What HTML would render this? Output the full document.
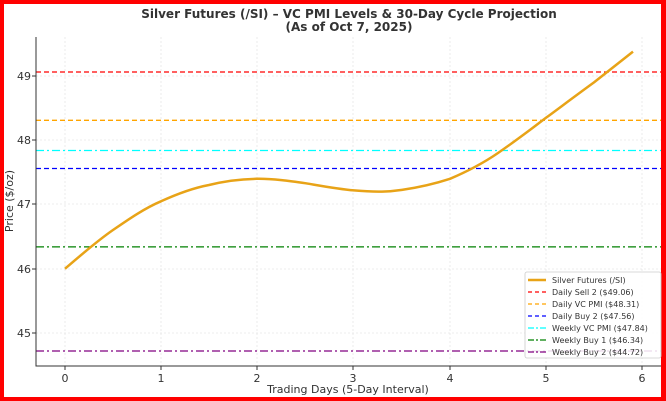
<!DOCTYPE html>
<html><head><style>
html,body{margin:0;padding:0;background:#fff;}
svg{display:block;font-family:"DejaVu Sans","Liberation Sans",sans-serif;}
</style></head><body>
<svg width="666" height="401" viewBox="0 0 666 401" xmlns="http://www.w3.org/2000/svg">
<rect x="0" y="0" width="666" height="401" fill="#ff0000"/>
<rect x="4" y="4" width="657" height="393" fill="#fff"/>
<g stroke="#e6e6e6" stroke-width="0.8" stroke-dasharray="2,2">
<line x1="65" y1="37" x2="65" y2="366"/><line x1="161" y1="37" x2="161" y2="366"/><line x1="257" y1="37" x2="257" y2="366"/><line x1="353" y1="37" x2="353" y2="366"/><line x1="450" y1="37" x2="450" y2="366"/><line x1="546" y1="37" x2="546" y2="366"/><line x1="642" y1="37" x2="642" y2="366"/>
<line x1="36" y1="76" x2="661" y2="76"/><line x1="36" y1="140" x2="661" y2="140"/><line x1="36" y1="204" x2="661" y2="204"/><line x1="36" y1="269" x2="661" y2="269"/><line x1="36" y1="333" x2="661" y2="333"/>
</g>
<g stroke-width="1.3" fill="none">
<line x1="36" y1="72" x2="661" y2="72" stroke="#ff0000" stroke-dasharray="5,3"/>
<line x1="36" y1="120.3" x2="661" y2="120.3" stroke="#ffa500" stroke-dasharray="5,3"/>
<line x1="36" y1="168.5" x2="661" y2="168.5" stroke="#0000ff" stroke-dasharray="5,3"/>
<line x1="36" y1="150.5" x2="661" y2="150.5" stroke="#00ffff" stroke-dasharray="8,3,2,3"/>
<line x1="36" y1="246.9" x2="661" y2="246.9" stroke="#008000" stroke-dasharray="8,3,2,3"/>
<line x1="36" y1="351" x2="661" y2="351" stroke="#800080" stroke-dasharray="8,3,2,3"/>
</g>
<path d="M65,268.75 C81,255 97,241 113,230 C129,219 145,208 161,201.3 C177,194 193,188 209,185 C225,181 241,179 257,178.8 C273,178.6 290,181 306,183.3 C322,186 338,189 354,190.4 C364,191.3 373,191.8 382,191.6 C389,191.5 396,190.8 402,189.9 C418,187.5 434,184 450,178.8 C466,172 482,164 498,153 C514,142 530,130 546,117.8 C562,106 578,94 594,82.4 C607,72 620,62 633,51.6" fill="none" stroke="#e8a317" stroke-width="2.5"/>
<line x1="36" y1="37" x2="36" y2="366.5" stroke="#333" stroke-width="1"/>
<line x1="36" y1="366" x2="661" y2="366" stroke="#333" stroke-width="1"/>
<g stroke="#333">
<line x1="65" y1="366" x2="65" y2="370"/><line x1="161" y1="366" x2="161" y2="370"/><line x1="257" y1="366" x2="257" y2="370"/><line x1="353" y1="366" x2="353" y2="370"/><line x1="450" y1="366" x2="450" y2="370"/><line x1="546" y1="366" x2="546" y2="370"/><line x1="642" y1="366" x2="642" y2="370"/>
<line x1="32" y1="76" x2="36" y2="76"/><line x1="32" y1="140" x2="36" y2="140"/><line x1="32" y1="204" x2="36" y2="204"/><line x1="32" y1="269" x2="36" y2="269"/><line x1="32" y1="333" x2="36" y2="333"/>
</g>
<g font-size="11" fill="#333" text-anchor="middle">
<text x="65" y="382">0</text><text x="161" y="382">1</text><text x="257" y="382">2</text><text x="353" y="382">3</text><text x="450" y="382">4</text><text x="546" y="382">5</text><text x="642" y="382">6</text>
</g>
<g font-size="11" fill="#333" text-anchor="end">
<text x="31" y="80">49</text><text x="31" y="144">48</text><text x="31" y="208">47</text><text x="31" y="273">46</text><text x="31" y="337">45</text>
</g>
<text x="348" y="393" font-size="11" fill="#333" text-anchor="middle">Trading Days (5-Day Interval)</text>
<text transform="translate(13,201) rotate(-90)" font-size="11" fill="#333" text-anchor="middle">Price ($/oz)</text>
<g font-size="12" font-weight="bold" fill="#333" text-anchor="middle">
<text x="349" y="18">Silver Futures (/SI) – VC PMI Levels &amp; 30-Day Cycle Projection</text>
<text x="349" y="31">(As of Oct 7, 2025)</text>
</g>
<rect x="525" y="272" width="136" height="86" rx="2" fill="#fff" fill-opacity="0.85" stroke="#ccc" stroke-width="0.8"/>
<g stroke-width="1.3">
<line x1="528" y1="280" x2="546" y2="280" stroke="#e8a317" stroke-width="2.5"/>
<line x1="528" y1="292" x2="546" y2="292" stroke="#ff0000" stroke-dasharray="4,3"/>
<line x1="528" y1="304" x2="546" y2="304" stroke="#ffa500" stroke-dasharray="4,3"/>
<line x1="528" y1="316" x2="546" y2="316" stroke="#0000ff" stroke-dasharray="4,3"/>
<line x1="528" y1="328" x2="546" y2="328" stroke="#00ffff" stroke-dasharray="6,2,2,2"/>
<line x1="528" y1="340" x2="546" y2="340" stroke="#008000" stroke-dasharray="6,2,2,2"/>
<line x1="528" y1="352" x2="546" y2="352" stroke="#800080" stroke-dasharray="6,2,2,2"/>
</g>
<g font-size="8" fill="#333">
<text x="552" y="283">Silver Futures (/SI)</text>
<text x="552" y="295">Daily Sell 2 ($49.06)</text>
<text x="552" y="307">Daily VC PMI ($48.31)</text>
<text x="552" y="319">Daily Buy 2 ($47.56)</text>
<text x="552" y="331">Weekly VC PMI ($47.84)</text>
<text x="552" y="343">Weekly Buy 1 ($46.34)</text>
<text x="552" y="355">Weekly Buy 2 ($44.72)</text>
</g>
</svg>
</body></html>
